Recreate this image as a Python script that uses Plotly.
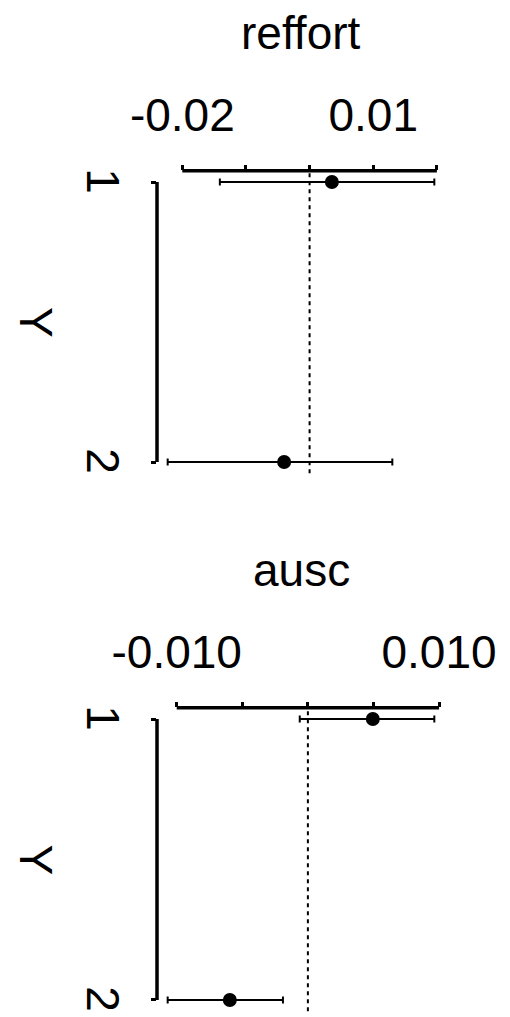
import plotly.graph_objects as go

# ---- data ----
panels = ["reffort", "ausc"]
rows = [1, 2]
row_labels = ["1", "2"]

reffort_est = [0.0035, -0.0040]
reffort_lo = [-0.0141, -0.0223]
reffort_hi = [0.0196, 0.0130]

ausc_est = [0.00495, -0.00595]
ausc_lo = [-0.00062, -0.01069]
ausc_hi = [0.00964, -0.0019]

reffort_ticks = [-0.02, -0.01, 0.0, 0.01, 0.02]
reffort_ticktext = ["-0.02", "", "", "0.01", ""]
ausc_ticks = [-0.010, -0.005, 0.0, 0.005, 0.010]
ausc_ticktext = ["-0.010", "", "", "", "0.010"]

# page is offset by the default 8px body margin
OFF = 8
W, H = 510 - OFF, 1017 - OFF
FONT = "Liberation Sans, Arial, Helvetica, sans-serif"
FS = 46

panel_data = [
    (reffort_est, reffort_lo, reffort_hi, reffort_ticks, reffort_ticktext),
    (ausc_est, ausc_lo, ausc_hi, ausc_ticks, ausc_ticktext),
]

# layout geometry (page pixels)
x_dom_px = (157, 445)
y_dom_px = [(170.8, 473.2), (707.8, 1011.2)]


def px_x(p):
    return (p - OFF) / W


def px_y(p):
    return 1 - (p - OFF) / H


fig = go.Figure()
layout = dict(
    width=W, height=H, autosize=False,
    margin=dict(l=0, r=0, t=0, b=0),
    paper_bgcolor="white", plot_bgcolor="white",
    showlegend=False,
    font=dict(family=FONT, size=FS, color="black"),
)
shapes = []
annotations = []

for i, (name, (est, lo, hi, ticks, ticktext)) in enumerate(zip(panels, panel_data)):
    xa = "x" if i == 0 else f"x{i+1}"
    ya = "y" if i == 0 else f"y{i+1}"
    xkey = "xaxis" if i == 0 else f"xaxis{i+1}"
    ykey = "yaxis" if i == 0 else f"yaxis{i+1}"

    dmin = min(lo); dmax = max(hi)
    pad = 0.04 * (dmax - dmin)
    xr = [dmin - pad, dmax + pad]

    top_px, bot_px = y_dom_px[i]
    ydom = [px_y(bot_px), px_y(top_px)]
    xdom = [px_x(x_dom_px[0]), px_x(x_dom_px[1])]

    fig.add_trace(go.Scatter(
        x=est, y=rows, mode="markers",
        marker=dict(color="black", size=14),
        error_x=dict(type="data", symmetric=False,
                     array=[h - e for h, e in zip(hi, est)],
                     arrayminus=[e - l for e, l in zip(est, lo)],
                     color="black", thickness=2, width=3.5),
        xaxis=xa, yaxis=ya, cliponaxis=False,
    ))

    layout[xkey] = dict(
        domain=xdom, anchor=ya, side="top", range=xr,
        tickmode="array", tickvals=ticks, ticktext=ticktext,
        ticks="outside", ticklen=5, tickwidth=3, tickcolor="black",
        showline=False, showgrid=False, zeroline=False,
        tickfont=dict(family=FONT, size=FS, color="black"),
        ticklabelstandoff=15, automargin=False,
    )
    layout[ykey] = dict(
        domain=ydom, anchor=xa, range=[2.04, 0.96],
        tickmode="array", tickvals=rows, ticktext=row_labels,
        tickangle=90,
        ticks="outside", ticklen=5, tickwidth=3, tickcolor="black",
        showline=False, showgrid=False, zeroline=False,
        tickfont=dict(family=FONT, size=FS, color="black"),
        ticklabelstandoff=9, ticklabelshift=-6, automargin=False,
    )

    # axis lines spanning only the tick range (R style)
    shapes.append(dict(type="line", xref=xa, yref=f"{ya} domain",
                       x0=min(ticks), x1=max(ticks), y0=1, y1=1,
                       line=dict(color="black", width=3.5)))
    shapes.append(dict(type="line", xref=f"{xa} domain", yref=ya,
                       x0=0, x1=0, y0=min(rows), y1=max(rows),
                       line=dict(color="black", width=3.5)))
    # zero reference line
    shapes.append(dict(type="line", xref=xa, yref=f"{ya} domain",
                       x0=0, x1=0, y0=0, y1=1,
                       line=dict(color="black", width=2, dash="4px,4px")))

    # panel title
    annotations.append(dict(text=name, xref="paper", yref="paper",
                            x=px_x((x_dom_px[0] + x_dom_px[1]) / 2),
                            y=px_y(top_px - 138),
                            xanchor="center", yanchor="middle", showarrow=False,
                            font=dict(family=FONT, size=FS, color="black")))
    # y axis title, rotated clockwise
    annotations.append(dict(text="Y", xref="paper", yref="paper",
                            x=px_x(36), y=px_y((top_px + bot_px) / 2),
                            xanchor="center", yanchor="middle", showarrow=False,
                            textangle=90,
                            font=dict(family=FONT, size=FS, color="black")))

layout["shapes"] = shapes
layout["annotations"] = annotations
fig.update_layout(**layout)
fig.write_html("out.html")
